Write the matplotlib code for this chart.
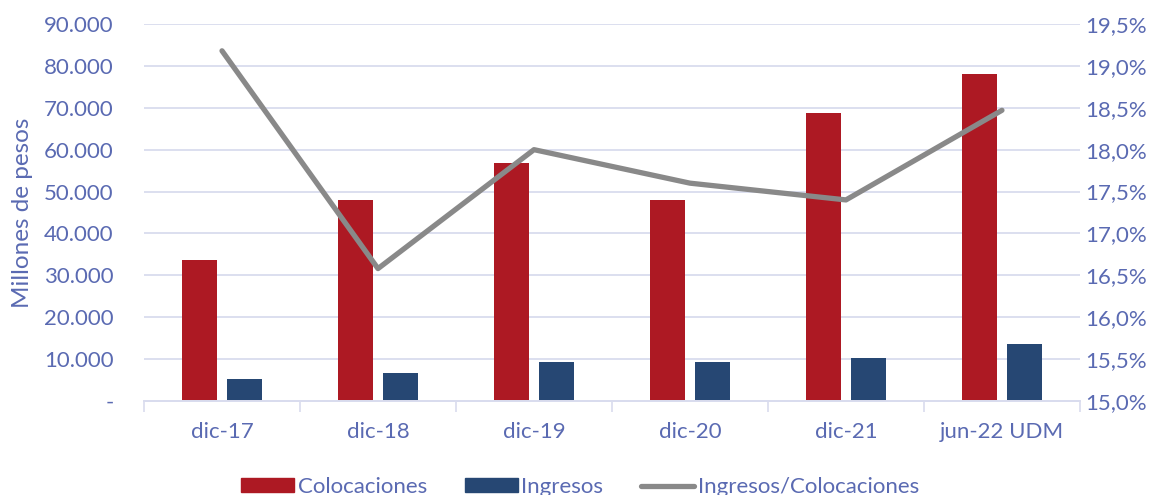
import matplotlib.pyplot as plt
import numpy as np
from matplotlib.ticker import FuncFormatter, FixedLocator
from matplotlib.patches import Patch
from matplotlib.lines import Line2D

plt.rcParams['font.family'] = ['Lato', 'DejaVu Sans']

categories = ['dic-17', 'dic-18', 'dic-19', 'dic-20', 'dic-21', 'jun-22 UDM']
colocaciones = [33600, 48000, 56800, 48000, 68800, 78000]
ingresos = [5300, 6700, 9400, 9200, 10200, 13600]
ratio = [19.18, 16.58, 18.0, 17.6, 17.4, 18.47]

text_c = '#5A6AB2'
grid_c = '#D9DCEE'
red = '#AD1923'
blue = '#264773'
grey = '#898989'
fs = 16

fig = plt.figure(figsize=(11.67, 4.95), dpi=100)
ax = fig.add_axes([0.1234, 0.19, 0.802, 0.7615])
ax2 = ax.twinx()

x = np.arange(len(categories))
w = 0.224
ax.bar(x - 0.142, colocaciones, w, color=red, zorder=2)
ax.bar(x + 0.142, ingresos, w, color=blue, zorder=2)
ax2.plot(x, ratio, color=grey, lw=3.8, solid_capstyle='round', zorder=3)

ax.set_xlim(-0.5, len(categories) - 0.5)
ax.set_ylim(0, 90000)
ax.yaxis.set_major_locator(FixedLocator(np.arange(0, 90001, 10000)))
ax.yaxis.set_major_formatter(FuncFormatter(
    lambda v, p: '-' if v == 0 else f'{int(v):,}'.replace(',', '.')))
ax2.set_ylim(15, 19.5)
ax2.yaxis.set_major_locator(FixedLocator(np.arange(15, 19.51, 0.5)))
ax2.yaxis.set_major_formatter(FuncFormatter(lambda v, p: f'{v:.1f}%'.replace('.', ',')))

ax.set_xticks(x)
ax.set_xticklabels(categories)
ax.set_xticks(np.arange(-0.5, len(categories)), minor=True)
ax.tick_params(axis='x', which='major', length=0, pad=15, labelsize=fs, labelcolor=text_c)
ax.tick_params(axis='x', which='minor', length=8, width=1.2, color=grid_c)
ax.tick_params(axis='y', length=0, pad=22, labelsize=fs, labelcolor=text_c)
ax2.tick_params(axis='y', length=0, pad=4, labelsize=fs, labelcolor=text_c)

ax.grid(axis='y', color=grid_c, lw=1.3, zorder=0)
ax.set_axisbelow(True)
for a in (ax, ax2):
    for s in ['top', 'right', 'left']:
        a.spines[s].set_visible(False)
    a.spines['bottom'].set_color(grid_c)
    a.spines['bottom'].set_linewidth(1.3)

ax.set_ylabel('Millones de pesos', color=text_c, fontsize=17.5, labelpad=8)

handles = [Patch(color=red), Patch(color=blue),
           Line2D([0], [0], color=grey, lw=3.8, solid_capstyle='round')]
fig.legend(handles, ['Colocaciones', 'Ingresos', 'Ingresos/Colocaciones'],
           loc='lower center', bbox_to_anchor=(0.497, -0.045), ncol=3, frameon=False,
           fontsize=fs, labelcolor=text_c, handlelength=2.4, handleheight=0.6,
           handletextpad=0.15, columnspacing=1.7)

fig.savefig('out.png', dpi=100)
